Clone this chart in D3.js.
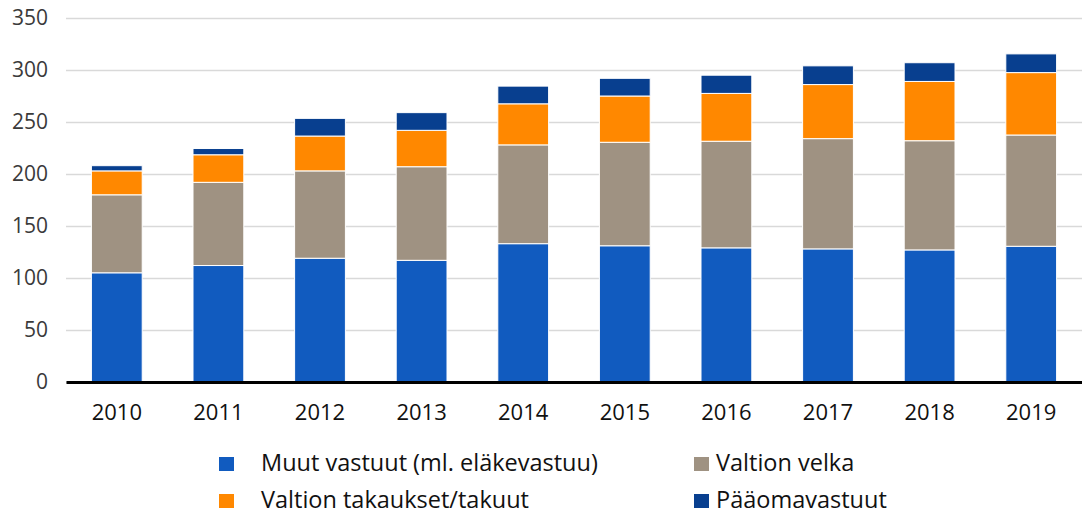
<!DOCTYPE html>
<html>
<head>
<meta charset="utf-8">
<script src="https://cdn.jsdelivr.net/npm/d3@7"></script>
<style>
	body { margin: 0; background: #fff; }
	text { font-family: "Open Sans", "Noto Sans", sans-serif; }
</style>
</head>
<body>
<div id="chart"></div>
<script>
// vuodet ja sarjat (mrd. euroa)
var years = ["2010", "2011", "2012", "2013", "2014", "2015", "2016", "2017", "2018", "2019"];
var muutVastuut = [105, 112, 119, 117, 133, 131, 129, 128, 127, 130.5];
var valtionVelka = [75, 80, 84, 90, 95, 99.5, 102.5, 106, 105, 107];
var takaukset = [23, 26.5, 33.5, 35, 39.5, 44.5, 46, 52, 57, 60];
var paaomavastuut = [5, 6, 17, 17, 17, 17, 17.5, 18, 18, 18];
var seriesNames = ["Muut vastuut (ml. eläkevastuu)", "Valtion velka", "Valtion takaukset/takuut", "Pääomavastuut"];
var colors = ["#115bbf", "#9f9282", "#ff8800", "#083f8f"];
var yTicks = [0, 50, 100, 150, 200, 250, 300, 350];

drawchart()

function drawchart() {
	var W = 1082, H = 515;
	var margin = { top: 18, right: 0, bottom: 133, left: 66 };
	var width = W - margin.left - margin.right;
	var height = H - margin.top - margin.bottom;

	var svg = d3.select("#chart")
		.append("svg")
		.attr("width", W)
		.attr("height", H);
	var g = svg.append("g")
		.attr("transform", `translate(${margin.left},${margin.top})`);

	var table = years.map(function(y, i) {
		return { year: y, s0: muutVastuut[i], s1: valtionVelka[i], s2: takaukset[i], s3: paaomavastuut[i] };
	});
	var keys = ["s0", "s1", "s2", "s3"];
	var stacked = d3.stack().keys(keys)(table);

	var x = d3.scaleBand().domain(years).range([0, width]).paddingInner(0.5).paddingOuter(0.25);
	var y = d3.scaleLinear().domain([0, 350]).range([height, 0]);

	// ruudukko
	g.append("g")
		.call(d3.axisLeft(y).tickValues(yTicks).tickSize(-width).tickFormat(""))
		.call(function(a) { a.select(".domain").remove(); })
		.selectAll("line")
		.attr("stroke", "#d9d9d9")
		.attr("stroke-width", 1.3);

	// y-akselin tekstit
	g.append("g")
		.call(d3.axisLeft(y).tickValues(yTicks).tickSize(0).tickPadding(18))
		.call(function(a) { a.select(".domain").remove(); })
		.selectAll("text")
		.style("font-size", "21px")
		.attr("fill", "#3a3a3a");

	// pylväät
	g.selectAll(".serie")
		.data(stacked)
		.join("g")
		.attr("fill", function(d, i) { return colors[i]; })
		.selectAll("rect")
		.data(function(d) { return d; })
		.join("rect")
		.attr("x", function(d) { return x(d.data.year); })
		.attr("y", function(d) { return y(d[1]); })
		.attr("width", x.bandwidth())
		.attr("height", function(d) { return y(d[0]) - y(d[1]); })
		.attr("stroke", "#fff")
		.attr("stroke-width", 1);

	// x-akseli
	g.append("g")
		.attr("transform", `translate(0,${height})`)
		.call(d3.axisBottom(x).tickSize(0).tickPadding(22))
		.call(function(a) {
			a.select(".domain").attr("stroke", "#000").attr("stroke-width", 3);
		})
		.selectAll("text")
		.style("font-size", "22px")
		.attr("fill", "#111");

	// selite (2 x 2)
	var squareX = [219, 694];
	var textX = [261, 716];
	var rowY = [471, 508];
	var legend = svg.append("g");
	seriesNames.forEach(function(name, i) {
		var col = i % 2, row = Math.floor(i / 2);
		legend.append("rect")
			.attr("x", squareX[col])
			.attr("y", rowY[row] - 14)
			.attr("width", 15)
			.attr("height", 14)
			.attr("fill", colors[i]);
		legend.append("text")
			.attr("x", textX[col])
			.attr("y", rowY[row])
			.attr("fill", "#111")
			.style("font-size", "23.5px")
			.text(name);
	});
}
</script>
</body>
</html>
